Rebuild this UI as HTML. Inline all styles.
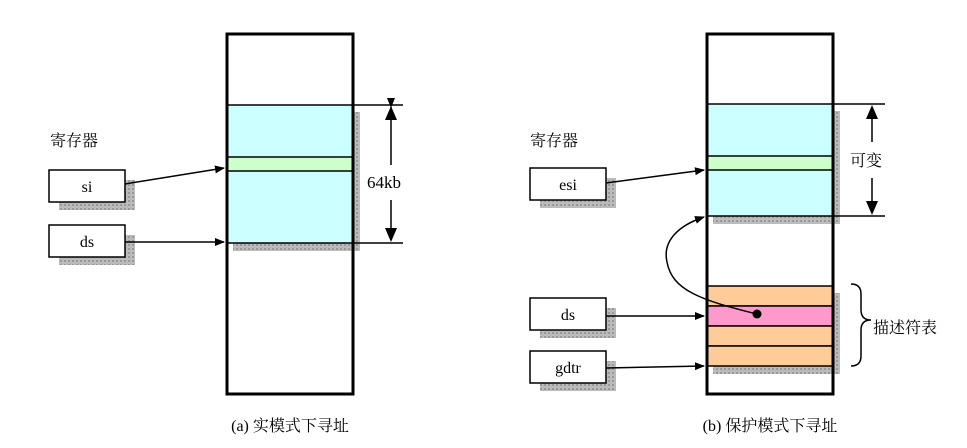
<!DOCTYPE html>
<html><head><meta charset="utf-8"><style>
body{margin:0;background:#fff}
text{font-family:"Liberation Serif","Noto Serif CJK SC",serif;fill:#000}
</style></head><body>
<svg width="967" height="443" viewBox="0 0 967 443" xmlns="http://www.w3.org/2000/svg">
<defs>
<marker id="ah" markerWidth="10" markerHeight="8" refX="9" refY="4" orient="auto" markerUnits="userSpaceOnUse"><path d="M0,0 L10,4 L0,8 z" fill="#000"/></marker>
<pattern id="sh" width="4" height="4" patternUnits="userSpaceOnUse"><rect width="4" height="4" fill="#bbb"/><rect width="2" height="2" fill="#999"/></pattern>
</defs>
<!-- LEFT -->
<rect x="233" y="243" width="127" height="8" fill="url(#sh)"/>
<rect x="353" y="112" width="7" height="139" fill="url(#sh)"/>
<rect x="227" y="105" width="126" height="138" fill="#ccffff"/>
<rect x="227" y="157" width="126" height="14" fill="#ccffcc" stroke="#000" stroke-width="1.5"/>
<rect x="227" y="34" width="126" height="360" fill="none" stroke="#000" stroke-width="3"/>
<line x1="227" y1="105" x2="403" y2="105" stroke="#000" stroke-width="1.5"/>
<line x1="227" y1="243" x2="403" y2="243" stroke="#000" stroke-width="1.5"/>
<line x1="391" y1="107" x2="391" y2="165" stroke="#000" stroke-width="1.5" marker-start="url(#ah)" />
<path d="M391,106 l-6,14 h12z" fill="#000"/>
<line x1="391" y1="200" x2="391" y2="228" stroke="#000" stroke-width="1.5"/>
<path d="M391,242 l-6,-14 h12z" fill="#000"/>
<text x="367" y="188" font-size="17">64kb</text>
<text x="50" y="146" font-size="16">寄存器</text>
<rect x="59" y="180" width="76" height="30" fill="url(#sh)"/>
<rect x="49" y="170" width="76" height="32" fill="#fff" stroke="#000" stroke-width="1.5"/>
<text x="87" y="192" font-size="16" text-anchor="middle">si</text>
<rect x="59" y="235" width="76" height="30" fill="url(#sh)"/>
<rect x="49" y="225" width="76" height="32" fill="#fff" stroke="#000" stroke-width="1.5"/>
<text x="87" y="247" font-size="16" text-anchor="middle">ds</text>
<line x1="125" y1="184" x2="224" y2="168" stroke="#000" stroke-width="1.5" marker-end="url(#ah)"/>
<line x1="125" y1="242" x2="224" y2="242" stroke="#000" stroke-width="1.5" marker-end="url(#ah)"/>
<text x="290" y="431" font-size="16" text-anchor="middle">(a) 实模式下寻址</text>
<!-- RIGHT -->
<rect x="713" y="216" width="127" height="8" fill="url(#sh)"/>
<rect x="833" y="111" width="7" height="113" fill="url(#sh)"/>
<rect x="713" y="366" width="127" height="8" fill="url(#sh)"/>
<rect x="833" y="293" width="7" height="81" fill="url(#sh)"/>
<rect x="707" y="104" width="126" height="112" fill="#ccffff"/>
<rect x="707" y="156" width="126" height="14" fill="#ccffcc" stroke="#000" stroke-width="1.5"/>
<rect x="707" y="286" width="126" height="20" fill="#ffcc99" stroke="#000" stroke-width="1.5"/>
<rect x="707" y="306" width="126" height="20" fill="#ff99cc" stroke="#000" stroke-width="1.5"/>
<rect x="707" y="326" width="126" height="20" fill="#ffcc99" stroke="#000" stroke-width="1.5"/>
<rect x="707" y="346" width="126" height="20" fill="#ffcc99" stroke="#000" stroke-width="1.5"/>
<rect x="707" y="34" width="126" height="360" fill="none" stroke="#000" stroke-width="3"/>
<line x1="707" y1="104" x2="885" y2="104" stroke="#000" stroke-width="1.5"/>
<line x1="707" y1="216" x2="885" y2="216" stroke="#000" stroke-width="1.5"/>
<line x1="872" y1="118" x2="872" y2="142" stroke="#000" stroke-width="1.5"/>
<path d="M872,105 l-6,14 h12z" fill="#000"/>
<line x1="872" y1="178" x2="872" y2="202" stroke="#000" stroke-width="1.5"/>
<path d="M872,215 l-6,-14 h12z" fill="#000"/>
<text x="850" y="166" font-size="16">可变</text>
<path d="M851,284 q10,0 10,10 v16 q0,10 10,10 q-10,0 -10,10 v26 q0,10 -10,10" fill="none" stroke="#000" stroke-width="1.5"/>
<text x="873" y="333" font-size="16">描述符表</text>
<text x="530" y="146" font-size="16">寄存器</text>
<rect x="540" y="178" width="76" height="30" fill="url(#sh)"/>
<rect x="530" y="168" width="76" height="32" fill="#fff" stroke="#000" stroke-width="1.5"/>
<text x="568" y="190" font-size="16" text-anchor="middle">esi</text>
<rect x="540" y="308" width="76" height="30" fill="url(#sh)"/>
<rect x="530" y="298" width="76" height="32" fill="#fff" stroke="#000" stroke-width="1.5"/>
<text x="568" y="320" font-size="16" text-anchor="middle">ds</text>
<rect x="540" y="361" width="76" height="30" fill="url(#sh)"/>
<rect x="530" y="351" width="76" height="32" fill="#fff" stroke="#000" stroke-width="1.5"/>
<text x="568" y="373" font-size="16" text-anchor="middle">gdtr</text>
<line x1="606" y1="183" x2="704" y2="170" stroke="#000" stroke-width="1.5" marker-end="url(#ah)"/>
<line x1="606" y1="316" x2="704" y2="316" stroke="#000" stroke-width="1.5" marker-end="url(#ah)"/>
<line x1="606" y1="368" x2="704" y2="366" stroke="#000" stroke-width="1.5" marker-end="url(#ah)"/>
<path d="M757,314 C700,300 672,290 667,262 C662,240 680,225 704,217" fill="none" stroke="#000" stroke-width="1.5" marker-end="url(#ah)"/>
<circle cx="757" cy="314" r="4.5" fill="#000"/>
<text x="770" y="431" font-size="16" text-anchor="middle">(b) 保护模式下寻址</text>
</svg>
</body></html>
